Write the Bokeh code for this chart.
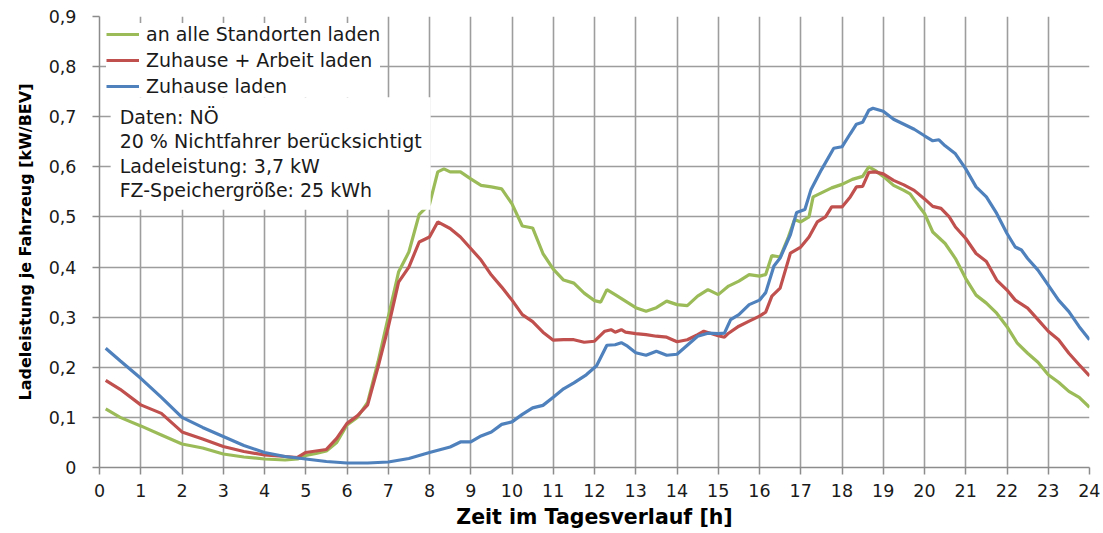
from bokeh.plotting import figure
from bokeh.models import (Legend, LegendItem, Label, FixedTicker,
                          CustomJSTickFormatter, Range1d)
from bokeh.embed import file_html
from bokeh.resources import INLINE

FONT = "DejaVu Sans"

X_TICKS = list(range(0, 25))
Y_TICKS = [0, 0.1, 0.2, 0.3, 0.4, 0.5, 0.6, 0.7, 0.8, 0.9]

SERIES_NAMES = ["an alle Standorten laden", "Zuhause + Arbeit laden", "Zuhause laden"]
SERIES_COLORS = ["#9BBB59", "#C0504D", "#4F81BD"]

ANNOTATION = ["Daten: NÖ", "20 % Nichtfahrer berücksichtigt",
              "Ladeleistung: 3,7 kW", "FZ-Speichergröße: 25 kWh"]

green_x = [0.15, 0.5, 1, 1.5, 2, 2.5, 3, 3.5, 4, 4.5,
           4.8, 5, 5.25, 5.5, 5.75, 6, 6.25, 6.5, 6.75, 7,
           7.25, 7.5, 7.75, 8, 8.2, 8.35, 8.5, 8.75, 9, 9.25,
           9.5, 9.75, 10, 10.25, 10.5, 10.75, 11, 11.25, 11.5, 11.75,
           12, 12.15, 12.3, 12.5, 12.75, 13, 13.25, 13.5, 13.75, 14,
           14.25, 14.5, 14.75, 15, 15.25, 15.5, 15.75, 16, 16.15, 16.3,
           16.5, 16.7, 16.85, 17, 17.2, 17.3, 17.5, 17.75, 18, 18.25,
           18.5, 18.65, 18.8, 19, 19.25, 19.5, 19.65, 19.85, 20, 20.2,
           20.5, 20.75, 21, 21.25, 21.5, 21.75, 22, 22.25, 22.5, 22.75,
           23, 23.25, 23.5, 23.75, 24]
green_y = [0.117, 0.100, 0.083, 0.065, 0.047, 0.039, 0.027, 0.021, 0.017, 0.015,
           0.017, 0.024, 0.028, 0.033, 0.050, 0.085, 0.100, 0.130, 0.210, 0.300,
           0.390, 0.430, 0.505, 0.525, 0.590, 0.596, 0.590, 0.590, 0.576, 0.563,
           0.560, 0.556, 0.526, 0.482, 0.478, 0.427, 0.396, 0.374, 0.368, 0.348,
           0.333, 0.330, 0.355, 0.345, 0.332, 0.319, 0.312, 0.319, 0.332, 0.325,
           0.323, 0.342, 0.355, 0.345, 0.362, 0.372, 0.385, 0.382, 0.385, 0.423,
           0.420, 0.460, 0.495, 0.490, 0.500, 0.540, 0.548, 0.558, 0.565, 0.575,
           0.581, 0.600, 0.593, 0.581, 0.563, 0.553, 0.546, 0.523, 0.507, 0.470,
           0.447, 0.417, 0.377, 0.344, 0.328, 0.308, 0.281, 0.248, 0.228, 0.210,
           0.185, 0.170, 0.152, 0.140, 0.120]

red_x = [0.15, 0.5, 1, 1.5, 2, 2.5, 3, 3.5, 4, 4.5,
         4.8, 5, 5.25, 5.5, 5.75, 6, 6.25, 6.5, 6.75, 7,
         7.25, 7.5, 7.75, 8, 8.2, 8.5, 8.75, 9, 9.25, 9.5,
         9.75, 10, 10.25, 10.5, 10.75, 11, 11.25, 11.5, 11.75, 12,
         12.25, 12.4, 12.5, 12.65, 12.75, 13, 13.25, 13.5, 13.75, 14,
         14.25, 14.5, 14.65, 15, 15.15, 15.25, 15.5, 15.75, 16, 16.15,
         16.3, 16.5, 16.75, 17, 17.2, 17.4, 17.6, 17.75, 18, 18.2,
         18.35, 18.5, 18.65, 18.8, 19, 19.25, 19.5, 19.75, 20, 20.2,
         20.4, 20.6, 20.75, 21, 21.25, 21.5, 21.75, 22, 22.2, 22.5,
         22.75, 23, 23.25, 23.5, 23.75, 24]
red_y = [0.174, 0.156, 0.125, 0.108, 0.071, 0.057, 0.042, 0.032, 0.025, 0.022,
         0.020, 0.030, 0.033, 0.036, 0.058, 0.088, 0.103, 0.125, 0.200, 0.280,
         0.370, 0.400, 0.450, 0.460, 0.490, 0.477, 0.460, 0.437, 0.414, 0.384,
         0.360, 0.334, 0.305, 0.291, 0.270, 0.254, 0.255, 0.255, 0.250, 0.252,
         0.272, 0.275, 0.270, 0.275, 0.270, 0.267, 0.265, 0.262, 0.260, 0.251,
         0.255, 0.265, 0.272, 0.263, 0.260, 0.268, 0.282, 0.292, 0.302, 0.310,
         0.342, 0.358, 0.428, 0.440, 0.460, 0.490, 0.500, 0.520, 0.520, 0.540,
         0.560, 0.561, 0.589, 0.590, 0.586, 0.573, 0.564, 0.553, 0.536, 0.521,
         0.517, 0.500, 0.480, 0.457, 0.427, 0.411, 0.374, 0.354, 0.334, 0.318,
         0.295, 0.272, 0.255, 0.228, 0.205, 0.183]

blue_x = [0.15, 0.5, 1, 1.5, 2, 2.5, 3, 3.5, 4, 4.5,
          5, 5.5, 6, 6.5, 7, 7.5, 8, 8.5, 8.75, 9,
          9.25, 9.5, 9.75, 10, 10.25, 10.5, 10.75, 11, 11.25, 11.5,
          11.8, 12.05, 12.3, 12.5, 12.65, 12.8, 13, 13.25, 13.5, 13.75,
          14, 14.25, 14.5, 14.75, 15, 15.15, 15.3, 15.5, 15.75, 16,
          16.15, 16.35, 16.5, 16.75, 16.9, 17.1, 17.25, 17.5, 17.8, 18,
          18.2, 18.35, 18.5, 18.65, 18.75, 19, 19.25, 19.5, 19.75, 20,
          20.2, 20.35, 20.5, 20.75, 21, 21.25, 21.5, 21.75, 22, 22.2,
          22.35, 22.5, 22.75, 23, 23.25, 23.5, 23.75, 24]
blue_y = [0.238, 0.213, 0.178, 0.140, 0.100, 0.080, 0.062, 0.044, 0.030, 0.022,
          0.017, 0.012, 0.009, 0.009, 0.011, 0.018, 0.030, 0.041, 0.051, 0.051,
          0.063, 0.071, 0.086, 0.091, 0.106, 0.119, 0.124, 0.140, 0.157, 0.169,
          0.185, 0.203, 0.244, 0.245, 0.249, 0.242, 0.229, 0.224, 0.232, 0.224,
          0.226, 0.244, 0.262, 0.268, 0.267, 0.268, 0.295, 0.305, 0.325, 0.334,
          0.349, 0.402, 0.418, 0.465, 0.509, 0.515, 0.555, 0.594, 0.637, 0.640,
          0.666, 0.685, 0.689, 0.713, 0.717, 0.711, 0.695, 0.685, 0.675, 0.662,
          0.652, 0.654, 0.642, 0.626, 0.596, 0.560, 0.540, 0.507, 0.467, 0.440,
          0.434, 0.417, 0.394, 0.364, 0.334, 0.311, 0.281, 0.255]

p = figure(width=1100, height=531, x_range=Range1d(0, 24), y_range=Range1d(0, 0.9),
           output_backend="svg", toolbar_location=None,
           min_border_left=99, min_border_right=11, min_border_top=16, min_border_bottom=63)
p.outline_line_color = None
p.background_fill_color = "white"
p.border_fill_color = "white"

GRID_COLOR = "#9d9d9d"
for g in (p.xgrid, p.ygrid):
    g.grid_line_color = GRID_COLOR
    g.grid_line_width = 1.6
p.xgrid.ticker = FixedTicker(ticks=X_TICKS)
p.ygrid.ticker = FixedTicker(ticks=Y_TICKS)

p.xaxis.ticker = FixedTicker(ticks=X_TICKS)
p.yaxis.ticker = FixedTicker(ticks=Y_TICKS)
p.yaxis.formatter = CustomJSTickFormatter(
    code="return tick < 1e-9 ? '0' : tick.toFixed(1).replace('.', ',');")

for ax in (p.xaxis, p.yaxis):
    ax.axis_line_color = "#8c8c8c"
    ax.axis_line_width = 1.5
    ax.major_tick_line_color = "#8c8c8c"
    ax.major_tick_line_width = 1.5
    ax.major_tick_out = 7
    ax.major_tick_in = 0
    ax.minor_tick_line_color = None
    ax.major_label_text_font = FONT
    ax.major_label_text_font_size = "17.5px"
    ax.major_label_text_color = "#1a1a1a"
    ax.axis_label_text_font = FONT
    ax.axis_label_text_font_style = "bold"
    ax.axis_label_text_color = "#000000"

p.yaxis.major_label_standoff = 16
p.xaxis.major_label_standoff = 9
p.yaxis.axis_label = "Ladeleistung je Fahrzeug [kW/BEV]"
p.yaxis.axis_label_text_font_size = "16px"
p.yaxis.axis_label_standoff = 11
p.xaxis.axis_label = "Zeit im Tagesverlauf [h]"
p.xaxis.axis_label_text_font_size = "20.5px"
p.xaxis.axis_label_standoff = 5

renderers = []
for xs, ys, col in ((green_x, green_y, SERIES_COLORS[0]),
                    (red_x, red_y, SERIES_COLORS[1]),
                    (blue_x, blue_y, SERIES_COLORS[2])):
    renderers.append(p.line(xs, ys, line_color=col, line_width=3.2))

legend = Legend(items=[LegendItem(label=n, renderers=[r]) for n, r in zip(SERIES_NAMES, renderers)],
                location="top_left", background_fill_color="white", background_fill_alpha=1.0,
                border_line_color=None, margin=7, padding=6, spacing=4,
                label_height=20, glyph_height=20, glyph_width=33, label_standoff=7,
                label_text_font=FONT, label_text_font_size="19px", label_text_color="#1a1a1a")
p.add_layout(legend)

ann = Label(x=0.27, y=0.739, x_units="data", y_units="data", text="\n".join(ANNOTATION),
            text_font=FONT, text_font_size="19px", text_color="#1a1a1a",
            text_baseline="top", text_align="left", text_line_height=1.1,
            background_fill_color="white", background_fill_alpha=1.0, padding=9)
p.add_layout(ann)

open("out.html", "w").write(file_html(p, INLINE))
